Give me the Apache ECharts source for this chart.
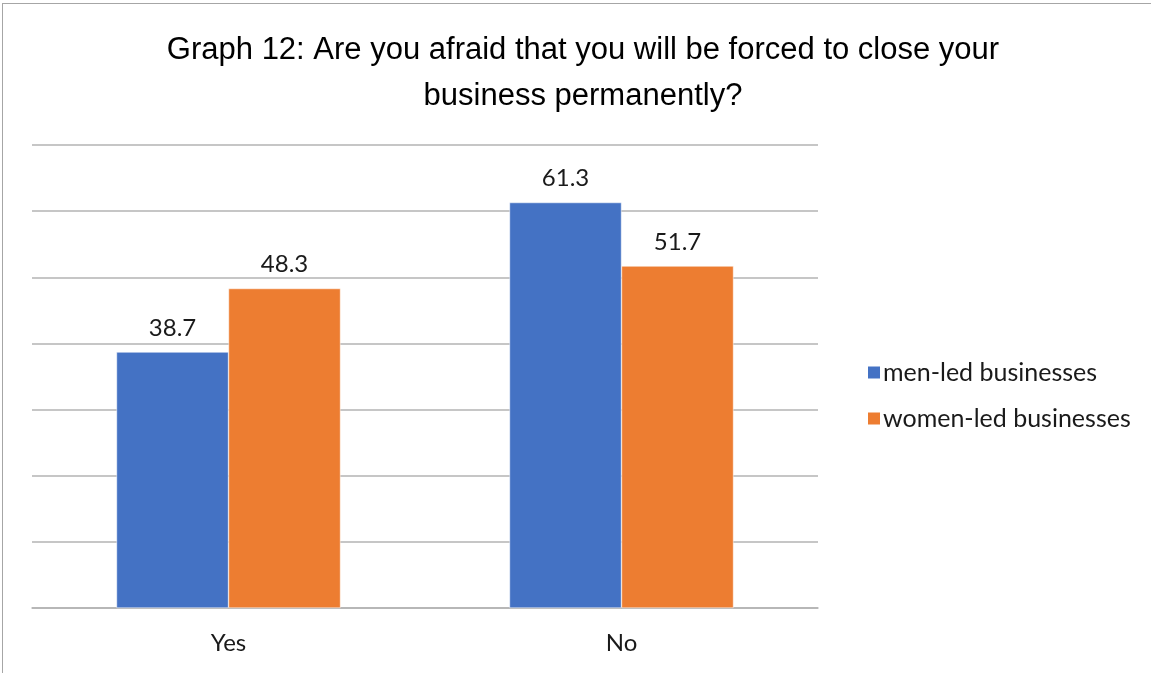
<!DOCTYPE html>
<html>
<head>
<meta charset="utf-8">
<script src="https://cdn.jsdelivr.net/npm/echarts@6/dist/echarts.min.js"></script>
<style>
  html, body { margin: 0; padding: 0; background: #ffffff; }
  #frame { position: absolute; left: 2px; top: 3px; width: 1160px; height: 680px; border: 1.5px solid #a6a6a6; box-sizing: border-box; }
  #chart { position: absolute; left: 0; top: 0; width: 1151px; height: 673px; }
</style>
</head>
<body>
<div id="frame"></div>
<div id="chart"></div>
<script>
// Survey answers, in percent
const categories = ['Yes', 'No'];
const seriesNames = ['men-led businesses', 'women-led businesses'];
const menLed = [38.7, 61.3];
const womenLed = [48.3, 51.7];
const colors = ['#4472C4', '#ED7D31'];

const labelFont = 'Lato, "Open Sans", sans-serif';

const chart = echarts.init(document.getElementById('chart'), null, { renderer: 'canvas' });

const barLabel = {
  show: true,
  position: 'top',
  distance: 12,
  color: '#1a1a1a',
  fontFamily: labelFont,
  fontSize: 24,
  formatter: p => p.value.toFixed(1)
};

chart.setOption({
  backgroundColor: 'transparent',
  animation: false,
  color: colors,
  title: {
    text: 'Graph 12: Are you afraid that you will be forced to close your\nbusiness permanently?',
    left: 578,
    top: 22,
    textAlign: 'center',
    textStyle: {
      fontFamily: '"Liberation Sans Narrow", "Liberation Sans", Arial, sans-serif',
      fontWeight: 'normal',
      fontSize: 31,
      lineHeight: 46,
      color: '#000000'
    }
  },
  legend: {
    orient: 'vertical',
    left: 861,
    top: 355,
    itemWidth: 14,
    itemHeight: 14,
    itemGap: 21,
    icon: 'rect',
    textStyle: { fontFamily: labelFont, fontSize: 25, color: '#1a1a1a', padding: [0, 0, 0, -3] },
    data: seriesNames
  },
  grid: { left: 32, right: 333, top: 145, bottom: 65, containLabel: false },
  xAxis: {
    type: 'category',
    data: categories,
    axisLine: { show: true, lineStyle: { color: '#b3b3b3', width: 1.5 } },
    axisTick: { show: false },
    axisLabel: { fontFamily: labelFont, fontSize: 24, color: '#1a1a1a', margin: 23 }
  },
  yAxis: {
    type: 'value',
    min: 0,
    max: 70,
    interval: 10,
    axisLine: { show: false },
    axisTick: { show: false },
    axisLabel: { show: false },
    splitLine: { lineStyle: { color: '#b3b3b3', width: 1.5 } }
  },
  series: [
    {
      name: seriesNames[0],
      type: 'bar',
      data: menLed,
      barGap: '0%',
      barCategoryGap: '43%',
      itemStyle: { color: colors[0], borderColor: '#ffffff', borderWidth: 0.5 },
      label: barLabel
    },
    {
      name: seriesNames[1],
      type: 'bar',
      data: womenLed,
      itemStyle: { color: colors[1], borderColor: '#ffffff', borderWidth: 0.5 },
      label: barLabel
    }
  ]
});
</script>
</body>
</html>
